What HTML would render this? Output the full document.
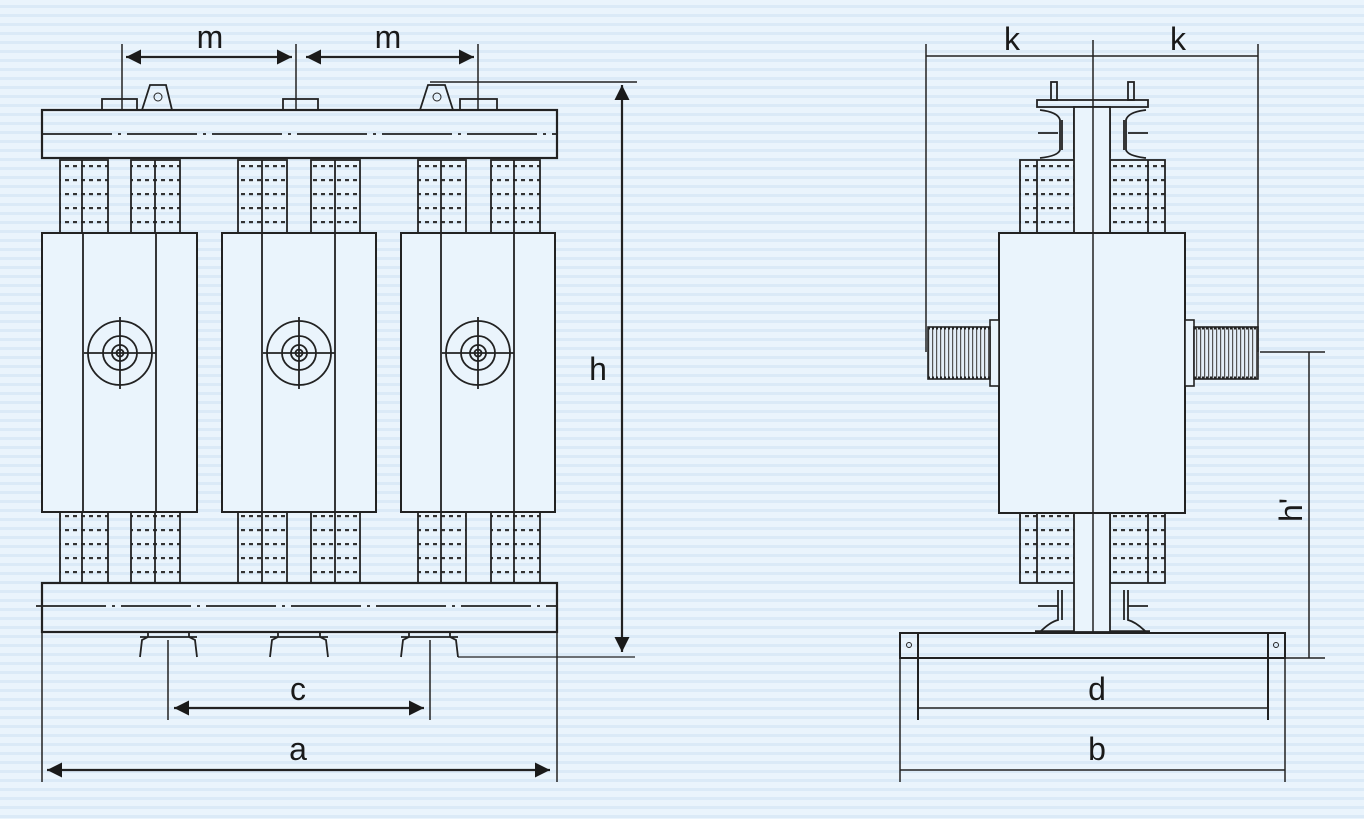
<!DOCTYPE html>
<html><head><meta charset="utf-8"><style>
html,body{margin:0;padding:0;background:#e8f3fc}
svg{display:block}
text{font-family:"Liberation Sans",sans-serif;fill:#1a1a1a}
</style></head><body>
<svg width="1364" height="819" viewBox="0 0 1364 819" xmlns="http://www.w3.org/2000/svg">
<defs>
<pattern id="bg" width="10" height="9" patternUnits="userSpaceOnUse">
<rect width="10" height="9" fill="#eaf4fc"/><rect y="5" width="10" height="3" fill="#dbeaf7"/>
</pattern>
<pattern id="dots" x="0" y="165" width="8" height="14" patternUnits="userSpaceOnUse">
<rect x="1" y="0" width="4" height="2.2" fill="#333"/>
</pattern>
<pattern id="hatch" width="4" height="10" patternUnits="userSpaceOnUse">
<rect width="4" height="10" fill="#e4eef7"/><rect x="0" width="1.2" height="10" fill="#555"/>
</pattern>
<marker id="ar" viewBox="0 0 10 10" refX="10" refY="5" markerWidth="22" markerHeight="15" markerUnits="userSpaceOnUse" orient="auto-start-reverse">
<path d="M0,0 L10,5 L0,10 z" fill="#1a1a1a"/>
</marker>
</defs>
<rect width="1364" height="819" fill="url(#bg)"/>

<g stroke="#222" stroke-width="1.8" fill="none">
<rect x="102" y="99" width="35" height="11"/>
<rect x="283" y="99" width="35" height="11"/>
<rect x="460" y="99" width="37" height="11"/>
<path d="M142,110 L150,85 L166,85 L172,110"/>
<path d="M420,110 L428,85 L445,85 L453,110"/>
<circle cx="158" cy="97" r="4" stroke-width="1"/>
<circle cx="437" cy="97" r="4" stroke-width="1"/>
<rect x="42" y="110" width="515" height="48" stroke-width="2.2"/>
<line x1="42" y1="134" x2="557" y2="134" stroke-dasharray="70 6 3 6"/>
<rect x="42" y="583" width="515" height="49" stroke-width="2.2"/>
<line x1="36" y1="606" x2="557" y2="606" stroke-dasharray="70 6 3 6"/>
<path d="M140,657 L142,640 L148,637 L148,632 M197,657 L195,640 L189,637 L189,632 M140,637 H197"/>
<path d="M270,657 L272,640 L278,637 L278,632 M328,657 L326,640 L320,637 L320,632 M270,637 H328"/>
<path d="M401,657 L403,640 L409,637 L409,632 M458,657 L456,640 L450,637 L450,632 M401,637 H458"/>
<line x1="458" y1="657" x2="635" y2="657" stroke-width="1.3"/>
</g>

<g stroke="#222" stroke-width="1.8">
<g fill="url(#dots)">
<rect x="60" y="160" width="48" height="73"/><rect x="131" y="160" width="49" height="73"/>
<rect x="238" y="160" width="49" height="73"/><rect x="311" y="160" width="49" height="73"/>
<rect x="418" y="160" width="48" height="73"/><rect x="491" y="160" width="49" height="73"/>
<rect x="60" y="512" width="48" height="71"/><rect x="131" y="512" width="49" height="71"/>
<rect x="238" y="512" width="49" height="71"/><rect x="311" y="512" width="49" height="71"/>
<rect x="418" y="512" width="48" height="71"/><rect x="491" y="512" width="49" height="71"/>
</g>
<path d="M82,160V233 M155,160V233 M262,160V233 M335,160V233 M441,160V233 M514,160V233 M82,512V583 M155,512V583 M262,512V583 M335,512V583 M441,512V583 M514,512V583" fill="none"/>
</g>

<g stroke="#222" stroke-width="2" fill="#eaf4fc">
<rect x="42" y="233" width="155" height="279"/>
<rect x="222" y="233" width="154" height="279"/>
<rect x="401" y="233" width="154" height="279"/>
</g>
<g stroke="#222" stroke-width="1.8" fill="none">
<path d="M83,233V512 M156,233V512 M262,233V512 M335,233V512 M441,233V512 M514,233V512"/>
<g id="tg">
<circle cx="120" cy="353" r="32"/><circle cx="120" cy="353" r="17"/><circle cx="120" cy="353" r="8"/><circle cx="120" cy="353" r="3.5"/>
<path d="M84,353H156 M120,317V389"/>
</g>
<use href="#tg" x="179"/>
<use href="#tg" x="358"/>
</g>

<g stroke="#222" stroke-width="1.5" fill="none">
<path d="M122,44V110 M296,44V110 M478,44V110"/>
<line x1="126" y1="57" x2="292" y2="57" marker-start="url(#ar)" marker-end="url(#ar)" stroke-width="2.2"/>
<line x1="306" y1="57" x2="474" y2="57" marker-start="url(#ar)" marker-end="url(#ar)" stroke-width="2.2"/>
<line x1="430" y1="82" x2="637" y2="82"/>
<line x1="622" y1="85" x2="622" y2="652" marker-start="url(#ar)" marker-end="url(#ar)" stroke-width="2.2"/>
<path d="M168,640V720 M430,640V720"/>
<line x1="174" y1="708" x2="424" y2="708" marker-start="url(#ar)" marker-end="url(#ar)" stroke-width="2.2"/>
<path d="M42,632V782 M557,632V782"/>
<line x1="47" y1="770" x2="550" y2="770" marker-start="url(#ar)" marker-end="url(#ar)" stroke-width="2.2"/>
</g>
<text x="210" y="48" font-size="32" text-anchor="middle">m</text>
<text x="388" y="48" font-size="32" text-anchor="middle">m</text>
<text x="598" y="380" font-size="32" text-anchor="middle">h</text>
<text x="298" y="700" font-size="32" text-anchor="middle">c</text>
<text x="298" y="760" font-size="32" text-anchor="middle">a</text>

<g stroke="#222" stroke-width="1.8" fill="none">
<rect x="1051" y="82" width="6" height="18"/><rect x="1128" y="82" width="6" height="18"/>
<rect x="1037" y="100" width="111" height="7"/>
<path d="M1040,110 Q1058,112 1060,120 V150 Q1058,156 1040,158 M1074,110 V158 M1062,120 V150"/>
<path d="M1146,110 Q1128,112 1126,120 V150 Q1128,156 1146,158 M1110,110 V158 M1124,120 V150"/>
<path d="M1038,133H1058 M1128,133H1148"/>
<path d="M1040,632 Q1050,622 1058,620 V590 M1062,620 V590 M1038,606H1058"/>
<path d="M1146,632 Q1136,622 1128,620 V590 M1124,620 V590 M1128,606H1148"/>
<line x1="1035" y1="632" x2="1150" y2="632" stroke-width="3.5"/>
</g>
<g stroke="#222" stroke-width="1.8">
<g fill="url(#dots)">
<rect x="1020" y="160" width="55" height="73"/><rect x="1110" y="160" width="55" height="73"/>
<rect x="1020" y="513" width="55" height="70"/><rect x="1110" y="513" width="55" height="70"/>
</g>
<path d="M1037,160V233 M1148,160V233 M1037,513V583 M1148,513V583" fill="none"/>
</g>
<g stroke="#222" stroke-width="1.8" fill="#eaf4fc">
<rect x="1074" y="107" width="36" height="525"/>
<rect x="999" y="233" width="186" height="280" stroke-width="2"/>
</g>
<g stroke="#222" stroke-width="1.6">
<rect x="990" y="320" width="9" height="66" fill="#eaf4fc"/>
<rect x="928" y="327" width="62" height="52" fill="url(#hatch)"/>
<rect x="1185" y="320" width="9" height="66" fill="#eaf4fc"/>
<rect x="1194" y="327" width="64" height="52" fill="url(#hatch)"/>
</g>
<g stroke="#222" stroke-width="3" fill="none" stroke-dasharray="2 2">
<path d="M928,328H990 M928,378H990 M1194,328H1258 M1194,378H1258"/>
</g>
<g stroke="#222" stroke-width="2" fill="none">
<rect x="900" y="633" width="385" height="25"/>
<path d="M918,633V720 M1268,633V720"/>
<circle cx="909" cy="645" r="2.5" stroke-width="1"/><circle cx="1276" cy="645" r="2.5" stroke-width="1"/>
</g>
<g stroke="#222" stroke-width="1.5" fill="none">
<line x1="1093" y1="40" x2="1093" y2="632"/>
<path d="M926,44V352 M1258,44V352"/>
<line x1="926" y1="56" x2="1258" y2="56"/>
<line x1="1260" y1="352" x2="1325" y2="352"/>
<line x1="1285" y1="658" x2="1325" y2="658"/>
<line x1="1309" y1="352" x2="1309" y2="658"/>
<line x1="918" y1="708" x2="1268" y2="708"/>
<path d="M900,658V782 M1285,658V782"/>
<line x1="900" y1="770" x2="1285" y2="770"/>
</g>
<text x="1012" y="50" font-size="32" text-anchor="middle">k</text>
<text x="1178" y="50" font-size="32" text-anchor="middle">k</text>
<text x="1097" y="700" font-size="32" text-anchor="middle">d</text>
<text x="1097" y="760" font-size="32" text-anchor="middle">b</text>
<text transform="translate(1302,510) rotate(-90)" font-size="32" text-anchor="middle">h'</text>
</svg>
</body></html>
